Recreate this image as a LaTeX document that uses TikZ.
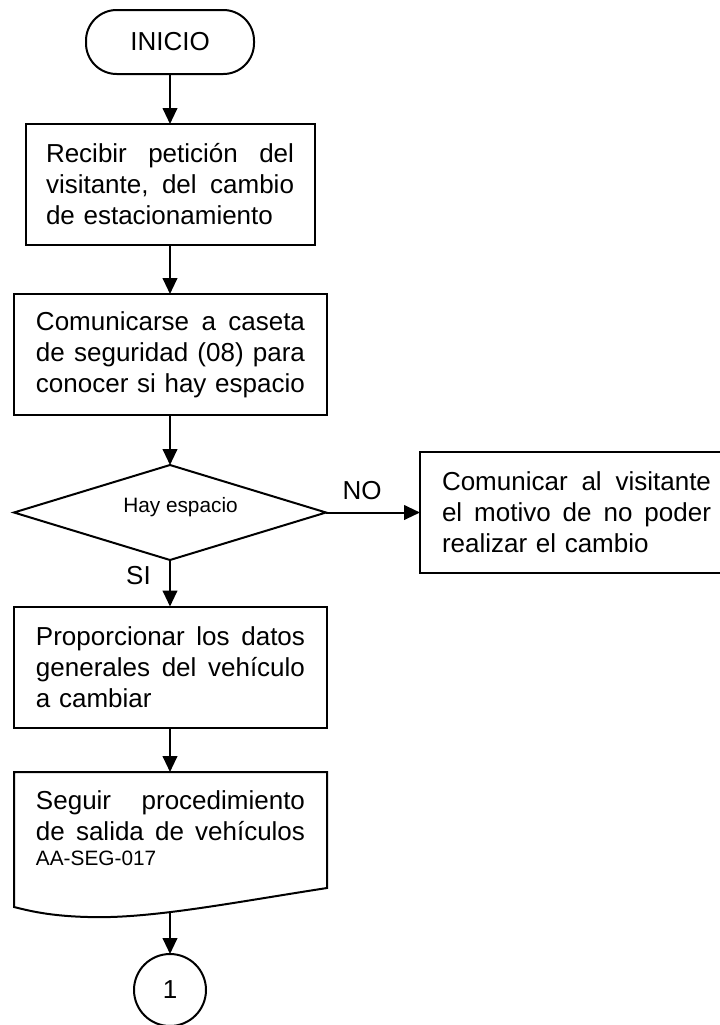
\documentclass[tikz,border=0pt]{standalone}
\usepackage{fontspec}
\setmainfont{Liberation Sans}
\usetikzlibrary{shapes.geometric,arrows.meta}
\newcommand\jl[2]{\leavevmode\hbox to #1{#2}}
\begin{document}
\begin{tikzpicture}[x=0.75pt,y=-0.75pt,
  every node/.style={inner sep=0pt, outer sep=0pt, font=\fontsize{19.5}{23.25}\selectfont},
  shp/.style={draw, line width=1.5pt},
  procbox/.style={shp, rectangle, minimum width=234.75pt, minimum height=90.75pt, text width=201.75pt, align=left},
  term/.style={shp, rectangle, rounded corners=23pt, minimum width=126pt, minimum height=48pt},
  decision/.style={shp, diamond, minimum width=234pt, minimum height=71.25pt},
  conn/.style={shp, circle, minimum size=54pt},
  arr/.style={line width=1.5pt, -{Triangle[length=12pt,width=11pt]}},
  smalltext/.style={font=\fontsize{15.6}{18.75}\selectfont}
]
\useasboundingbox (0,0) rectangle (719,1025);

\node[term] (inicio) at (170,42) {INICIO};

\node[procbox, minimum width=216.75pt, text width=186pt] (b1) at (170,184.5)
  {\jl{186pt}{Recibir\hfill petición\hfill del}\\\jl{186pt}{visitante,\hfill del\hfill cambio}\\de estacionamiento};

\node[procbox] (b2) at (170.5,354.5)
  {\jl{201.75pt}{Comunicarse\hfill a\hfill caseta}\\\jl{201.75pt}{de\hfill seguridad\hfill (08)\hfill para}\\conocer si hay espacio};

\node[decision] (dec) at (170,512.5) {};
\node[smalltext] (dectext) at (180.5,507.5) {Hay espacio};

\node[procbox] (b3) at (576.5,512.5)
  {\jl{201.75pt}{Comunicar\hfill al\hfill visitante}\\\jl{201.75pt}{el\hfill motivo\hfill de\hfill no\hfill poder}\\realizar el cambio};

\node[procbox] (b4) at (170.5,667)
  {\jl{201.75pt}{Proporcionar\hfill los\hfill datos}\\\jl{201.75pt}{generales\hfill del\hfill vehículo}\\a cambiar};

% document shape
\draw[shp] (14,772) -- (327,772) -- (327,888)
  .. controls (230,903) and (150,919) .. (88,917)
  .. controls (50,916) and (30,911) .. (14,907) -- cycle;
\coordinate (doctop) at (170,772);
\coordinate (docbot) at (170,911);
\node[anchor=base west, text width=201.75pt, align=left] (doctext) at (36,809)
  {\jl{201.75pt}{Seguir\hfill procedimiento}\\\jl{201.75pt}{de\hfill salida\hfill de\hfill vehículos}\\[-4.5pt]{\fontsize{15.6}{18.75}\selectfont AA-SEG-017}};

\node[conn] (c1) at (170,990) {1};

\node (no) at (362,491) {NO};
\node (si) at (138.5,576) {SI};

\draw[arr] (inicio.south) -- (b1.north);
\draw[arr] (b1.south) -- (b2.north -| b1.south);
\draw[arr] (b2.south -| dec.north) -- (dec.north);
\draw[arr] (dec.east) -- (b3.west);
\draw[arr] (dec.south) -- (b4.north -| dec.south);
\draw[arr] (b4.south -| doctop) -- (doctop);
\draw[arr] (docbot) -- (c1.north);
\end{tikzpicture}
\end{document}
